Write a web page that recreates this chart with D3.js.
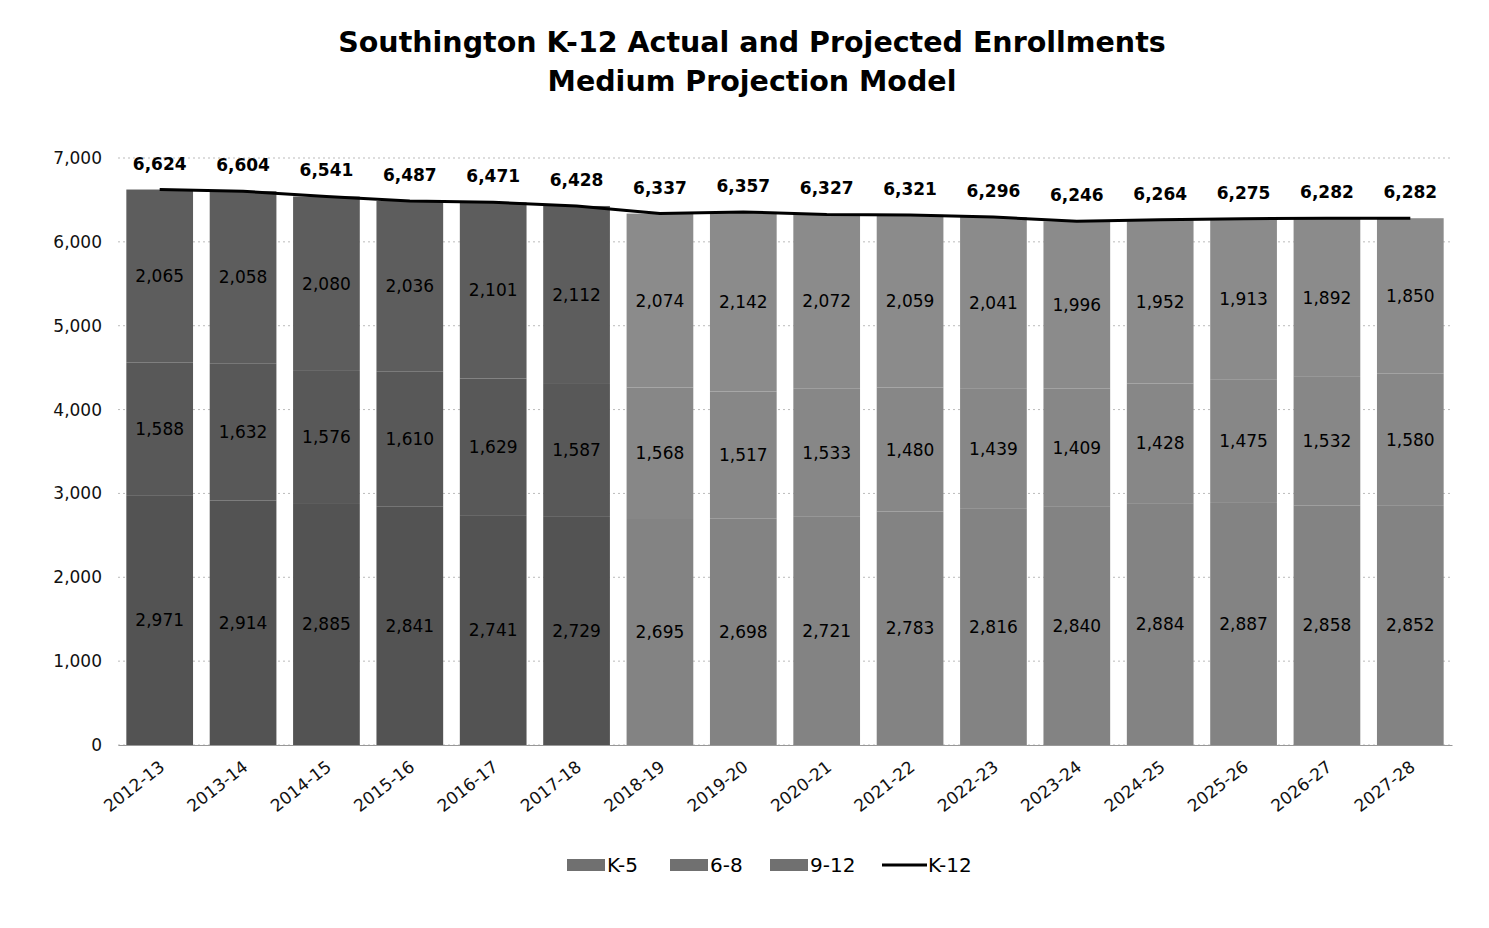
<!DOCTYPE html>
<html><head><meta charset="utf-8">
<script src="https://cdn.jsdelivr.net/npm/d3@7"></script>
<style>
body{margin:0;background:#fff;}
svg{display:block;font-family:"DejaVu Sans",sans-serif;}
</style></head>
<body>
<svg id="c" width="1489" height="928"></svg>
<script>
const years = ["2012-13","2013-14","2014-15","2015-16","2016-17","2017-18","2018-19","2019-20","2020-21","2021-22","2022-23","2023-24","2024-25","2025-26","2026-27","2027-28"];
const k5   = [2971,2914,2885,2841,2741,2729,2695,2698,2721,2783,2816,2840,2884,2887,2858,2852];
const g68  = [1588,1632,1576,1610,1629,1587,1568,1517,1533,1480,1439,1409,1428,1475,1532,1580];
const g912 = [2065,2058,2080,2036,2101,2112,2074,2142,2072,2059,2041,1996,1952,1913,1892,1850];
const k12  = [6624,6604,6541,6487,6471,6428,6337,6357,6327,6321,6296,6246,6264,6275,6282,6282];
const yTicks = [0,1000,2000,3000,4000,5000,6000,7000];
const seriesNames = ["K-5","6-8","9-12"];
const actualCount = 6;

const svg = d3.select("#c");
const x = d3.scaleBand().domain(years).range([118,1452]).paddingInner(0.2).paddingOuter(0.1);
const y = d3.scaleLinear().domain([0,7000]).range([745,158]);

// title
svg.append("text").attr("x",752).attr("y",52).attr("text-anchor","middle")
  .attr("font-size",28.5).attr("font-weight","bold").text("Southington K-12 Actual and Projected Enrollments");
svg.append("text").attr("x",752).attr("y",91).attr("text-anchor","middle")
  .attr("font-size",28.5).attr("font-weight","bold").text("Medium Projection Model");

// gridlines
svg.append("g").selectAll("line").data(yTicks).join("line")
  .attr("x1",118).attr("x2",1452).attr("y1",d=>y(d)).attr("y2",d=>y(d))
  .attr("stroke","#bbb").attr("stroke-dasharray","2,3");

// y axis
const yAxis = d3.axisLeft(y).tickValues(yTicks).tickFormat(d3.format(",")).tickSize(0).tickPadding(16);
const ga = svg.append("g").attr("transform","translate(118,0)").call(yAxis);
ga.select(".domain").remove();
ga.selectAll("text").attr("font-size",17).attr("fill","#111").attr("font-family","DejaVu Sans, sans-serif");

// stack
const rows = years.map((yr,i)=>({year:yr,i, "K-5":k5[i],"6-8":g68[i],"9-12":g912[i]}));
const stack = d3.stack().keys(seriesNames)(rows);
const shades = {
  actual: {"K-5":"#535353","6-8":"#585858","9-12":"#5d5d5d"},
  proj:   {"K-5":"#838383","6-8":"#878787","9-12":"#8b8b8b"}
};
stack.forEach(s=>{
  const g = svg.append("g");
  g.selectAll("rect").data(s).join("rect")
    .attr("x",d=>x(d.data.year)).attr("width",x.bandwidth())
    .attr("y",d=>y(d[1])).attr("height",d=>y(d[0])-y(d[1]))
    .attr("fill",d=>d.data.i<actualCount?shades.actual[s.key]:shades.proj[s.key]);
  g.selectAll("text").data(s).join("text")
    .attr("x",d=>x(d.data.year)+x.bandwidth()/2).attr("y",d=>y((d[0]+d[1])/2)+6)
    .attr("text-anchor","middle").attr("font-size",17).attr("fill","#000")
    .text(d=>d3.format(",")(d[1]-d[0]));
});

// K-12 line
const line = d3.line().x((d,i)=>x(years[i])+x.bandwidth()/2).y(d=>y(d));
svg.append("path").datum(k12).attr("d",line).attr("fill","none").attr("stroke","#000").attr("stroke-width",3);
svg.append("g").selectAll("text").data(k12).join("text")
  .attr("x",(d,i)=>x(years[i])+x.bandwidth()/2).attr("y",d=>y(d)-20)
  .attr("text-anchor","middle").attr("font-size",17).attr("font-weight","bold").text(d=>d3.format(",")(d));

// x axis
const xa = svg.append("g").attr("transform","translate(0,745)").call(d3.axisBottom(x).tickSize(0).tickPadding(0));
xa.select(".domain").attr("stroke","#999");
xa.selectAll("text").attr("font-size",17).attr("fill","#111").attr("font-family","DejaVu Sans, sans-serif")
  .attr("text-anchor","end").attr("dy",0).attr("transform","translate(6,24) rotate(-38)");

// legend
const leg = [
  {name:"K-5",type:"rect",fill:"#707070",x:567},
  {name:"6-8",type:"rect",fill:"#707070",x:670},
  {name:"9-12",type:"rect",fill:"#707070",x:770},
  {name:"K-12",type:"line",x:882}
];
const lg = svg.append("g");
leg.forEach(l=>{
  if(l.type==="rect") lg.append("rect").attr("x",l.x).attr("y",859).attr("width",38).attr("height",12).attr("fill",l.fill);
  else lg.append("line").attr("x1",l.x).attr("x2",l.x+45).attr("y1",865).attr("y2",865).attr("stroke","#000").attr("stroke-width",3);
  lg.append("text").attr("x",l.type==="line"?l.x+46:l.x+40).attr("y",872).attr("font-size",20).text(l.name);
});
</script>
</body></html>
